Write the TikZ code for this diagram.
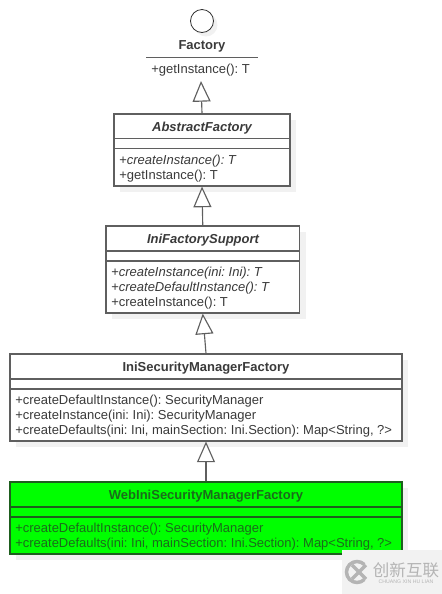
\documentclass[tikz,border=0pt]{standalone}
\usepackage{fontspec}
\setmainfont{Liberation Sans}
\newfontfamily\cjkfont{Noto Sans CJK SC}
\usetikzlibrary{arrows.meta,shadows}
\definecolor{umlLine}{HTML}{5F5F5F}
\definecolor{umlText}{HTML}{3A3A3A}
\definecolor{umlShadow}{HTML}{F1F1F1}
\definecolor{webFill}{HTML}{00FF00}
\definecolor{webLine}{HTML}{1E5E1E}
\definecolor{webText}{HTML}{1B6B1B}
\definecolor{markFill}{HTML}{F2F2F2}
\definecolor{markText}{HTML}{B4B4B4}
\def\pxsz{0.75pt}
\def\umlfont{\fontsize{9.75pt}{11pt}\selectfont\frenchspacing}
\tikzset{
  classbox/.style={draw=umlLine, fill=white, line width=0.85pt, inner sep=0pt,
    general shadow={shadow xshift=6*\pxsz, shadow yshift=-6*\pxsz, fill=umlShadow}},
  webbox/.style={classbox, draw=webLine, fill=webFill},
  titletxt/.style={font=\umlfont\bfseries, text=umlText, inner sep=0pt, yshift=-1.2*\pxsz},
  abstracttxt/.style={titletxt, font=\umlfont\bfseries\itshape},
  methodtxt/.style={font=\umlfont, text=umlText, anchor=west, inner sep=0pt, yshift=-1.2*\pxsz},
  extends/.style={draw=umlLine, line width=0.85pt, -{Triangle[open, fill=white, length=15.5pt, width=13.5pt]}},
  divider/.style={draw=umlLine, line width=0.85pt}
}
\begin{document}
\begin{tikzpicture}[x=\pxsz, y=-\pxsz]
\useasboundingbox (0,0) rectangle (442,594);
% Factory interface
\node[circle, draw=black!80, fill=white, line width=0.6pt, minimum size=23*\pxsz, inner sep=0pt,
  general shadow={shadow xshift=4*\pxsz, shadow yshift=-4*\pxsz, fill=umlShadow}] (factoryIcon) at (202,21) {};
\node[titletxt] (factoryTitle) at (202,45.5) {Factory};
\draw[divider] (146,57.5) -- (258,57.5);
\node[methodtxt] (factoryM1) at (151,68.5) {+getInstance(): T};
\coordinate (factoryEnd) at (201,81);
% AbstractFactory
\node[classbox, minimum width=176*\pxsz, minimum height=72*\pxsz] (absBox) at (202,150) {};
\draw[divider] (114,138.5) -- (290,138.5);
\draw[divider] (114,148.5) -- (290,148.5);
\node[abstracttxt] (absTitle) at (202,126.5) {AbstractFactory};
\node[methodtxt] (absM1) at (119,159.5) {+\textit{createInstance(): T}};
\node[methodtxt] (absM2) at (119,174.5) {+getInstance(): T};
% IniFactorySupport
\node[classbox, minimum width=193.5*\pxsz, minimum height=87*\pxsz] (supBox) at (202.75,269.5) {};
\draw[divider] (106,251) -- (299.5,251);
\draw[divider] (106,261) -- (299.5,261);
\node[abstracttxt] (supTitle) at (203,238.5) {IniFactorySupport};
\node[methodtxt] (supM1) at (111,272) {+\textit{createInstance(ini: Ini): T}};
\node[methodtxt] (supM2) at (111,286.5) {+\textit{createDefaultInstance(): T}};
\node[methodtxt] (supM3) at (111,301.5) {+createInstance(): T};
% IniSecurityManagerFactory
\node[classbox, minimum width=392*\pxsz, minimum height=87*\pxsz] (secBox) at (206,397.5) {};
\draw[divider] (10,379) -- (402,379);
\draw[divider] (10,389) -- (402,389);
\node[titletxt] (secTitle) at (206,366.5) {IniSecurityManagerFactory};
\node[methodtxt] (secM1) at (15,400) {+createDefaultInstance(): SecurityManager};
\node[methodtxt] (secM2) at (15,414.5) {+createInstance(ini: Ini): SecurityManager};
\node[methodtxt] (secM3) at (15,429.5) {+createDefaults(ini: Ini, mainSection: Ini.Section): Map<String, ?>};
% WebIniSecurityManagerFactory
\node[webbox, minimum width=392*\pxsz, minimum height=72*\pxsz] (webBox) at (206,518) {};
\draw[divider, draw=webLine] (10,507) -- (402,507);
\draw[divider, draw=webLine] (10,517) -- (402,517);
\node[titletxt, text=webText] (webTitle) at (206,494.5) {WebIniSecurityManagerFactory};
\node[methodtxt, text=webText] (webM1) at (15,527.5) {+createDefaultInstance(): SecurityManager};
\node[methodtxt, text=webText] (webM2) at (15,542.5) {+createDefaults(ini: Ini, mainSection: Ini.Section): Map<String, ?>};
% Generalisation arrows
\draw[extends] (absBox.north) -- (factoryEnd);
\draw[extends] (supBox.north) -- (absBox.south);
\draw[extends] (secBox.north) -- (supBox.south);
\draw[extends] (webBox.north) -- (secBox.south);
% Watermark
\fill[markFill] (342,550) rectangle (442,594);
\draw[markText, line width=2.6pt] (357,572) ++(45:10.5) arc (45:315:10.5);
\draw[markText, line width=2.6pt] (352,565) -- (366,579);
\draw[markText, line width=2.6pt] (352,579) -- (366,565);
\node[font=\cjkfont\fontsize{12.4pt}{13pt}\selectfont, text=markText, inner sep=0pt] (markTitle) at (406,570.5) {创新互联};
\node[font=\fontsize{3.9pt}{4pt}\selectfont, text=markText, inner sep=0pt] (markSub) at (406,581.5) {CHUANG XIN HU LIAN};
\end{tikzpicture}
\end{document}
